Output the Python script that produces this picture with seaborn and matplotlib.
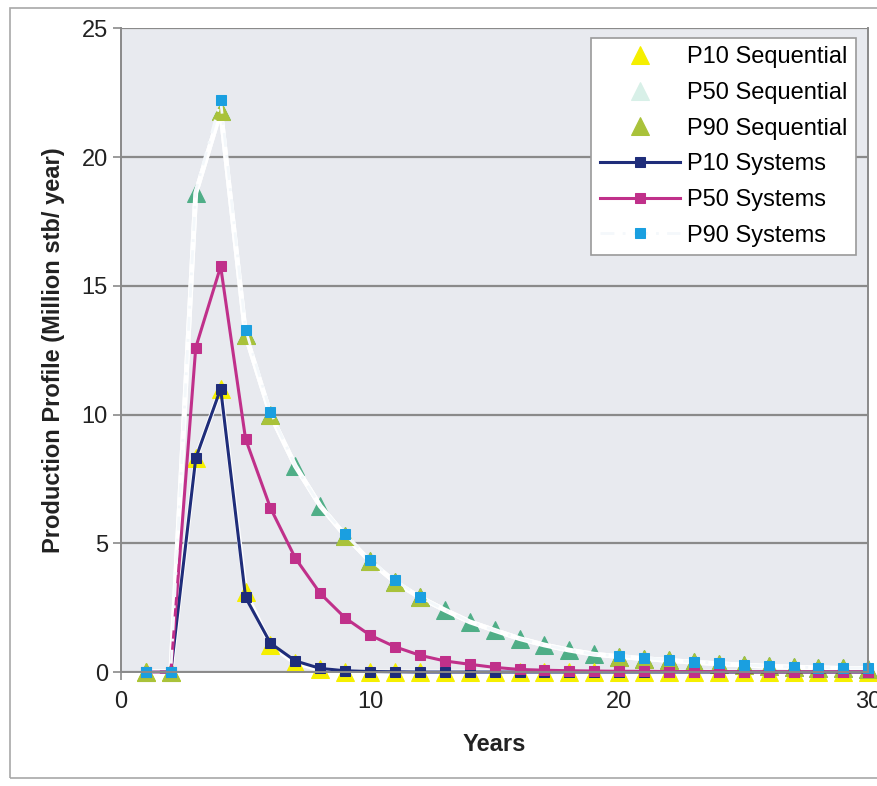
import matplotlib
matplotlib.use("Agg")
import matplotlib.pyplot as plt
import seaborn as sns
from matplotlib.patches import Rectangle

plt.rcParams['font.family'] = ['Liberation Sans', 'DejaVu Sans']

years = list(range(1, 31))

p10_seq = [0, 0, 8.3, 11.0, 3.1, 1.05, 0.35, 0.1, 0.02, 0, 0, 0, 0, 0, 0,
           0, 0, 0, 0, 0, 0, 0, 0, 0, 0, 0, 0, 0, 0, 0]
p50_seq = [0, 0, 18.6, 21.8, 13.1, 10.0, 8.0, 6.45, 5.3, 4.3, 3.5, 2.9, 2.41, 1.95, 1.62,
           1.3, 1.05, 0.85, 0.69, 0.6, 0.52, 0.45, 0.38, 0.32, 0.27, 0.22, 0.19, 0.16, 0.14, 0.13]
p90_seq = [0, 0, 18.6, 21.8, 13.1, 10.0, 8.0, 6.45, 5.3, 4.3, 3.5, 2.9, 2.41, 1.95, 1.62,
           1.3, 1.05, 0.85, 0.69, 0.6, 0.52, 0.45, 0.38, 0.32, 0.27, 0.22, 0.19, 0.16, 0.14, 0.13]
p10_sys = [0, 0, 8.3, 11.0, 2.9, 1.12, 0.43, 0.14, 0.05, 0.02, 0.01, 0, 0, 0, 0,
           0, 0, 0, 0, 0, 0, 0, 0, 0, 0, 0, 0, 0, 0, 0]
p50_sys = [0, 0, 12.6, 15.75, 9.05, 6.37, 4.42, 3.05, 2.1, 1.43, 0.98, 0.65, 0.43, 0.3, 0.18,
           0.1, 0.07, 0.05, 0.04, 0.03, 0.03, 0.02, 0.02, 0.02, 0.01, 0.01, 0.01, 0.01, 0.01, 0.01]
p90_sys = [0, 0, 18.7, 22.2, 13.3, 10.1, 8.0, 6.45, 5.35, 4.35, 3.57, 2.92, 2.41, 1.95, 1.62,
           1.3, 1.05, 0.85, 0.69, 0.63, 0.56, 0.47, 0.4, 0.34, 0.28, 0.23, 0.19, 0.17, 0.16, 0.15]

# years where only the green sequential triangles show in the scan
hidden = {3, 7, 8, 13, 14, 15, 16, 17, 18, 19}
shown = [i for i, y in enumerate(years) if y not in hidden]

fig = plt.figure(figsize=(8.77, 7.86), dpi=100)
ax = fig.add_axes([0.138, 0.145, 0.852, 0.819])
ax.set_facecolor('#e8eaef')

fig.patches.append(Rectangle((10 / 877, 8 / 786), 1.0, 770 / 786, transform=fig.transFigure,
                             fill=False, edgecolor='#a8a8a8', lw=1.2, zorder=0))

common = dict(ax=ax, clip_on=False)
sns.lineplot(x=years, y=p50_seq, color='white', lw=3.5, marker='^', markersize=13,
             markerfacecolor='#4fae87', markeredgecolor='#4fae87', label='P50 Sequential', **common)
sns.lineplot(x=years, y=p10_seq, color='white', lw=3.5, marker='^', markersize=13,
             markerfacecolor='#f5ef00', markeredgecolor='#f5ef00', label='P10 Sequential', **common)
sns.lineplot(x=years, y=p90_seq, color='white', lw=3.5, marker='^', markersize=13,
             markerfacecolor='#a9c23a', markeredgecolor='#a9c23a', markevery=shown,
             label='P90 Sequential', **common)
sns.lineplot(x=years, y=p10_sys, color='#1f2d7a', lw=2.2, marker='s', markersize=7.5,
             markerfacecolor='#1f2d7a', markeredgecolor='#1f2d7a', label='P10 Systems', **common)
sns.lineplot(x=years, y=p50_sys, color='#c0308a', lw=2.2, marker='s', markersize=7.5,
             markerfacecolor='#c0308a', markeredgecolor='#c0308a', label='P50 Systems', **common)
sns.lineplot(x=years, y=p90_sys, color='#f4f8fb', lw=2, ls=(0, (5, 3, 1, 3)),
             marker='s', markersize=7.5, markerfacecolor='#1a9fe0', markeredgecolor='#1a9fe0',
             markevery=shown, label='P90 Systems', **common)

ax.set_xlim(0, 30)
ax.set_ylim(0, 25)
ax.set_xticks([0, 10, 20, 30])
ax.set_yticks([0, 5, 10, 15, 20, 25])
ax.yaxis.grid(True, color='#8a8a8a', lw=1.6)
ax.xaxis.grid(False)
ax.set_axisbelow(True)
ax.spines['top'].set_visible(False)
for s in ['left', 'bottom', 'right']:
    ax.spines[s].set_color('#8a8a8a')
    ax.spines[s].set_linewidth(1.4)
ax.tick_params(axis='both', labelsize=17, colors='#8a8a8a', labelcolor='#222222', length=6, width=1.2)
ax.tick_params(axis='x', pad=8)

ax.set_xlabel('Years', fontsize=17, fontweight='bold', color='#222222', labelpad=14)
ax.set_ylabel('Production Profile (Million stb/ year)', fontsize=17, fontweight='bold',
              color='#222222', labelpad=12)

handles, labels = ax.get_legend_handles_labels()
order = ['P10 Sequential', 'P50 Sequential', 'P90 Sequential',
         'P10 Systems', 'P50 Systems', 'P90 Systems']
hmap = dict(zip(labels, handles))
leg = ax.legend([hmap[k] for k in order], order, loc='upper right',
                bbox_to_anchor=(0.983, 0.985), borderaxespad=0, fontsize=17, frameon=True,
                fancybox=False, edgecolor='#9a9a9a', framealpha=1, handlelength=3.4,
                handletextpad=0.3, labelspacing=0.58, borderpad=0.35)
leg.get_frame().set_linewidth(1.2)
for h in leg.legend_handles:
    h.set_markevery([1])
leg.legend_handles[1].set_markerfacecolor('#d8f0e8')
leg.legend_handles[1].set_markeredgecolor('#d8f0e8')

fig.savefig('out.png', dpi=100)
